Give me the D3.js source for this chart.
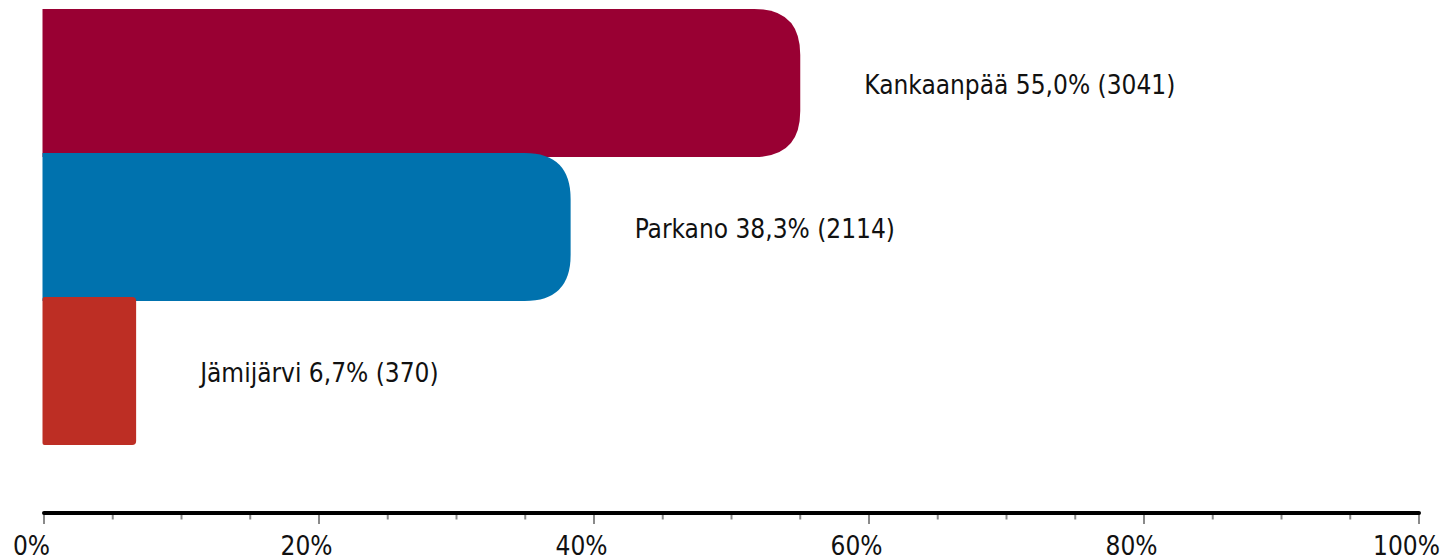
<!DOCTYPE html>
<html>
<head>
<meta charset="utf-8">
<script src="https://cdn.jsdelivr.net/npm/d3@7"></script>
<style>
  html, body { margin: 0; padding: 0; background: #fff; }
  svg { display: block; }
  text { font-family: "DejaVu Sans Condensed", "DejaVu Sans", sans-serif; fill: #111; }
</style>
</head>
<body>
<svg id="chart" width="1445" height="560"></svg>
<script>
const categories = ["Kankaanpää", "Parkano", "Jämijärvi"];
const percents = [55.0, 38.3, 6.7];
const counts = [3041, 2114, 370];
const colors = ["#990033", "#0072AE", "#BD2E24"];
const majorTicks = [0, 20, 40, 60, 80, 100];
const minorTicks = [5, 10, 15, 25, 30, 35, 45, 50, 55, 65, 70, 75, 85, 90, 95];

const svg = d3.select("#chart");
const x = d3.scaleLinear().domain([0, 100]).range([44, 1419]);
const y = d3.scaleBand().domain(categories).range([9, 441]).paddingInner(0).paddingOuter(0);
const barExtra = 4; // bars overlap slightly
const fmt = v => v.toFixed(1).replace(".", ",");

function barPath(x0, x1, y0, y1, r, rl) {
  const w = x1 - x0, h = y1 - y0;
  r = Math.min(r, w / 2, h / 2);
  return `M${x0 + rl},${y0} L${x1 - r},${y0} Q${x1},${y0} ${x1},${y0 + r} L${x1},${y1 - r} Q${x1},${y1} ${x1 - r},${y1} L${x0 + rl},${y1} Q${x0},${y1} ${x0},${y1 - rl} L${x0},${y0 + rl} Q${x0},${y0} ${x0 + rl},${y0} Z`;
}

const data = categories.map((c, i) => ({ c, p: percents[i], n: counts[i], col: colors[i] }));

const g = svg.append("g");
g.selectAll("path.bar").data(data).enter().append("path")
  .attr("class", "bar")
  .attr("fill", d => d.col)
  .attr("d", d => {
    const x0 = x(0) - 1.5, x1 = x(d.p);
    const y0 = y(d.c), y1 = y(d.c) + y.bandwidth() + barExtra;
    const w = x1 - x0;
    const big = w > 200;
    return barPath(x0, x1, y0, y1, big ? 46 : 4, big ? 0 : 2);
  });

g.selectAll("text.lbl").data(data).enter().append("text")
  .attr("class", "lbl")
  .attr("x", d => x(d.p) + 64)
  .attr("y", d => y(d.c) + (y.bandwidth() + barExtra) / 2 + 10.5)
  .attr("font-size", 26)
  .text(d => `${d.c} ${fmt(d.p)}% (${d.n})`);

// axis
const axisY = 513;
const ax = svg.append("g");
ax.selectAll("line.minor").data(minorTicks).enter().append("line")
  .attr("x1", d => x(d)).attr("x2", d => x(d))
  .attr("y1", axisY).attr("y2", axisY + 6.5)
  .attr("stroke", "#8a8a8a").attr("stroke-width", 2);
ax.selectAll("line.major").data(majorTicks).enter().append("line")
  .attr("x1", d => x(d)).attr("x2", d => x(d))
  .attr("y1", axisY).attr("y2", axisY + 11)
  .attr("stroke", "#8a8a8a").attr("stroke-width", 2);
ax.append("line")
  .attr("x1", x(0)).attr("x2", x(100))
  .attr("y1", axisY).attr("y2", axisY)
  .attr("stroke", "#000").attr("stroke-width", 4).attr("stroke-linecap", "round");
ax.selectAll("text.tick").data(majorTicks).enter().append("text")
  .attr("x", d => x(d) - 12.5)
  .attr("y", 555)
  .attr("text-anchor", "middle")
  .attr("font-size", 26)
  .text(d => d + "%");
</script>
</body>
</html>
